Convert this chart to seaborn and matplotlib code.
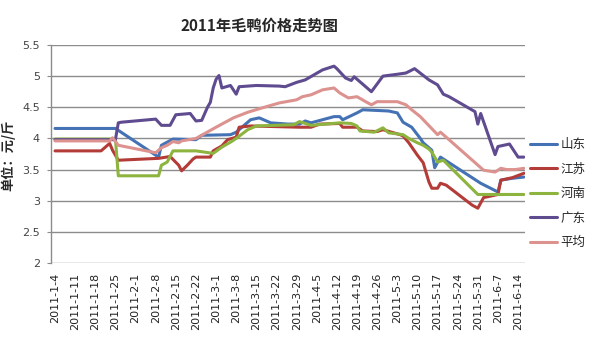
import pandas as pd
import numpy as np
import matplotlib.pyplot as plt
import seaborn as sns

# Plot style, then CJK-capable font list
sns.set_style("white")
plt.rcParams['font.family'] = ['Noto Sans CJK SC', 'DejaVu Sans']

title = "2011年毛鸭价格走势图"
y_label = "单位：元/斤"
regions = ["山东", "江苏", "河南", "广东", "平均"]
colors = ["#4472B4", "#B43C38", "#8DB43E", "#5F4B8F", "#DC928E"]

week_labels = ["2011-1-4", "2011-1-11", "2011-1-18", "2011-1-25", "2011-2-1",
               "2011-2-8", "2011-2-15", "2011-2-22", "2011-3-1", "2011-3-8",
               "2011-3-15", "2011-3-22", "2011-3-29", "2011-4-5", "2011-4-12",
               "2011-4-19", "2011-4-26", "2011-5-3", "2011-5-10", "2011-5-17",
               "2011-5-24", "2011-5-31", "2011-6-7", "2011-6-14"]
y_ticks = [2, 2.5, 3, 3.5, 4, 4.5, 5, 5.5]

# --- Prices (yuan per jin) ---

shandong_dates = ["2011-1-4", "2011-1-25", "2011-2-9", "2011-2-10", "2011-2-14", "2011-2-22",
                  "2011-2-24", "2011-3-6", "2011-3-8", "2011-3-13", "2011-3-16", "2011-3-20",
                  "2011-3-26", "2011-3-30", "2011-4-1", "2011-4-3", "2011-4-7", "2011-4-11",
                  "2011-4-13", "2011-4-14", "2011-4-19", "2011-4-21", "2011-4-30", "2011-5-3",
                  "2011-5-5", "2011-5-8", "2011-5-11", "2011-5-12", "2011-5-15", "2011-5-16",
                  "2011-5-18", "2011-6-1", "2011-6-7", "2011-6-8", "2011-6-12", "2011-6-16"]
shandong_price = [4.16, 4.16, 3.70, 3.89, 3.99, 3.98,
                  4.05, 4.06, 4.10, 4.30, 4.33, 4.25,
                  4.23, 4.23, 4.28, 4.25, 4.30, 4.35,
                  4.35, 4.30, 4.41, 4.46, 4.44, 4.41,
                  4.26, 4.18, 4.00, 3.93, 3.81, 3.53,
                  3.70, 3.28, 3.14, 3.33, 3.36, 3.38]

jiangsu_dates = ["2011-1-4", "2011-1-20", "2011-1-23", "2011-1-24", "2011-1-26", "2011-2-9",
                 "2011-2-13", "2011-2-16", "2011-2-17", "2011-2-19", "2011-2-21", "2011-2-22",
                 "2011-2-27", "2011-2-28", "2011-3-3", "2011-3-5", "2011-3-8", "2011-3-9",
                 "2011-3-13", "2011-3-30", "2011-4-3", "2011-4-6", "2011-4-13", "2011-4-14",
                 "2011-4-19", "2011-4-21", "2011-4-26", "2011-4-28", "2011-5-4", "2011-5-5",
                 "2011-5-7", "2011-5-10", "2011-5-12", "2011-5-14", "2011-5-15", "2011-5-17",
                 "2011-5-18", "2011-5-20", "2011-5-29", "2011-5-31", "2011-6-2", "2011-6-7",
                 "2011-6-8", "2011-6-12", "2011-6-16"]
jiangsu_price = [3.80, 3.80, 3.92, 3.81, 3.65, 3.68,
                 3.71, 3.57, 3.48, 3.57, 3.67, 3.70,
                 3.70, 3.80, 3.88, 3.98, 4.02, 4.18,
                 4.20, 4.18, 4.18, 4.23, 4.24, 4.18,
                 4.18, 4.12, 4.11, 4.14, 4.06, 4.04,
                 3.93, 3.73, 3.61, 3.30, 3.20, 3.20,
                 3.28, 3.25, 2.93, 2.88, 3.05, 3.10,
                 3.33, 3.37, 3.44]

henan_dates = ["2011-1-4", "2011-1-25", "2011-1-26", "2011-2-9", "2011-2-10", "2011-2-12",
               "2011-2-14", "2011-2-22", "2011-2-28", "2011-3-3", "2011-3-6", "2011-3-8",
               "2011-3-12", "2011-3-15", "2011-3-28", "2011-3-30", "2011-4-3", "2011-4-13",
               "2011-4-17", "2011-4-19", "2011-4-20", "2011-4-25", "2011-4-28", "2011-4-30",
               "2011-5-5", "2011-5-7", "2011-5-10", "2011-5-12", "2011-5-14", "2011-5-15",
               "2011-5-17", "2011-5-19", "2011-5-31", "2011-6-16"]
henan_price = [3.99, 3.99, 3.40, 3.40, 3.57, 3.62,
               3.80, 3.80, 3.76, 3.86, 3.94, 4.00,
               4.14, 4.20, 4.22, 4.27, 4.21, 4.25,
               4.24, 4.20, 4.12, 4.10, 4.17, 4.09,
               4.06, 4.00, 3.93, 3.89, 3.83, 3.78,
               3.62, 3.65, 3.10, 3.10]

guangdong_dates = ["2011-1-4", "2011-1-25", "2011-1-26", "2011-1-27", "2011-2-8", "2011-2-10",
                   "2011-2-13", "2011-2-15", "2011-2-20", "2011-2-22", "2011-2-24", "2011-2-26",
                   "2011-2-27", "2011-2-28", "2011-3-1", "2011-3-2", "2011-3-3", "2011-3-6",
                   "2011-3-8", "2011-3-9", "2011-3-15", "2011-3-23", "2011-3-25", "2011-3-29",
                   "2011-4-1", "2011-4-7", "2011-4-11", "2011-4-12", "2011-4-15", "2011-4-17",
                   "2011-4-18", "2011-4-20", "2011-4-24", "2011-4-28", "2011-5-3", "2011-5-6",
                   "2011-5-9", "2011-5-14", "2011-5-17", "2011-5-19", "2011-5-21", "2011-5-30",
                   "2011-5-31", "2011-6-1", "2011-6-6", "2011-6-7", "2011-6-11", "2011-6-14",
                   "2011-6-16"]
guangdong_price = [3.98, 3.98, 4.25, 4.26, 4.31, 4.21,
                   4.21, 4.38, 4.40, 4.28, 4.29, 4.50,
                   4.58, 4.81, 4.95, 5.01, 4.81, 4.85,
                   4.71, 4.83, 4.85, 4.84, 4.83, 4.90,
                   4.94, 5.10, 5.16, 5.12, 4.97, 4.93,
                   4.99, 4.91, 4.75, 5.00, 5.03, 5.05,
                   5.12, 4.94, 4.86, 4.71, 4.67, 4.43,
                   4.23, 4.40, 3.74, 3.87, 3.91, 3.70,
                   3.70]

average_dates = ["2011-1-4", "2011-1-23", "2011-1-24", "2011-1-26", "2011-2-8", "2011-2-10",
                 "2011-2-12", "2011-2-14", "2011-2-16", "2011-2-17", "2011-2-22", "2011-3-1",
                 "2011-3-7", "2011-3-12", "2011-3-17", "2011-3-23", "2011-3-29", "2011-3-31",
                 "2011-4-3", "2011-4-7", "2011-4-11", "2011-4-13", "2011-4-16", "2011-4-19",
                 "2011-4-22", "2011-4-24", "2011-4-26", "2011-5-3", "2011-5-6", "2011-5-8",
                 "2011-5-11", "2011-5-17", "2011-5-18", "2011-5-20", "2011-6-2", "2011-6-6",
                 "2011-6-8", "2011-6-10", "2011-6-13", "2011-6-16"]
average_price = [3.96, 3.96, 4.01, 3.89, 3.77, 3.85,
                 3.89, 3.95, 3.93, 3.96, 4.00, 4.18,
                 4.33, 4.42, 4.49, 4.57, 4.62, 4.67,
                 4.70, 4.78, 4.81, 4.73, 4.65, 4.67,
                 4.59, 4.54, 4.59, 4.59, 4.54, 4.46,
                 4.35, 4.06, 4.10, 4.02, 3.49, 3.46,
                 3.52, 3.50, 3.50, 3.52]

# --- Long table for seaborn ---

series = [(shandong_dates, shandong_price), (jiangsu_dates, jiangsu_price),
          (henan_dates, henan_price), (guangdong_dates, guangdong_price),
          (average_dates, average_price)]
frames = []
for name, (d, v) in zip(regions, series):
    frames.append(pd.DataFrame({'date': pd.to_datetime(d), 'price': v, 'region': name}))
df = pd.concat(frames, ignore_index=True)

# --- Visualization ---

fig = plt.figure(figsize=(6, 3.59), dpi=100)
ax = fig.add_axes([0.085, 0.2674, 0.79, 0.6073])

sns.lineplot(data=df, x='date', y='price', hue='region', hue_order=regions,
             palette=colors, linewidth=2.2, ax=ax)

start = pd.Timestamp("2011-1-4")
ax.set_xlim(start - pd.Timedelta(days=1.4), start + pd.Timedelta(days=163.4))
ax.set_ylim(2, 5.5)

ax.set_xticks(pd.to_datetime(week_labels))
ax.set_xticklabels(week_labels, rotation=90, fontsize=8, color='#222222',
                   family=['DejaVu Sans'])
ax.set_yticks(y_ticks)
ax.set_yticklabels([f"{v:g}" for v in y_ticks], fontsize=8, color='#444444',
                   family=['DejaVu Sans'])
ax.tick_params(axis='x', length=0, pad=7)
ax.tick_params(axis='y', length=3, pad=5, color='#8c8c8c', left=True)
ax.set_xlabel('')
ax.set_ylabel('')

ax.yaxis.grid(True, color='#8c8c8c', linewidth=1)
ax.xaxis.grid(False)
ax.set_axisbelow(True)
for side in ['top', 'right', 'bottom']:
    ax.spines[side].set_visible(False)
ax.spines['left'].set_color('#8c8c8c')
ax.spines['left'].set_linewidth(1)

handles, labels = ax.get_legend_handles_labels()
ax.legend(handles, labels, loc='center left', bbox_to_anchor=(0.884, 0.461),
          bbox_transform=fig.transFigure, frameon=False, fontsize=9,
          handlelength=2.1, handletextpad=0.3, labelspacing=0.92,
          borderpad=0, borderaxespad=0)

fig.text(0.433, 0.929, title, ha='center', va='center', fontsize=11, fontweight='bold')
fig.text(0.014, 0.568, y_label, ha='center', va='center', rotation=90,
         fontsize=9.5, fontweight='bold')

fig.savefig('out.png', dpi=100, facecolor='white')
plt.close()
